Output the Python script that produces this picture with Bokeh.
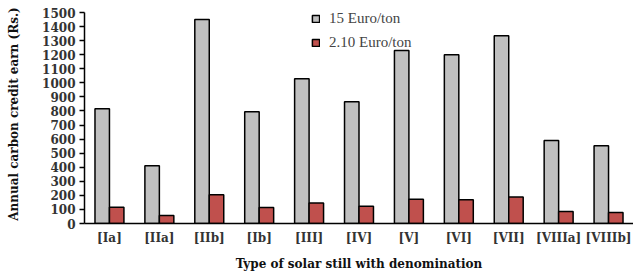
from bokeh.plotting import figure
from bokeh.models import ColumnDataSource, FactorRange, Legend, LegendItem, SingleIntervalTicker
from bokeh.transform import dodge
from bokeh.embed import file_html
from bokeh.resources import INLINE

categories = ["[Ia]", "[IIa]", "[IIb]", "[Ib]", "[III]", "[IV]", "[V]", "[VI]", "[VII]", "[VIIIa]", "[VIIIb]"]
euro15 = [815, 410, 1450, 795, 1030, 865, 1230, 1200, 1335, 590, 552]
euro210 = [115, 57, 204, 113, 146, 123, 173, 168, 188, 85, 78]

src = ColumnDataSource(dict(cat=categories, a=euro15, b=euro210))

# 1500 sits 8px below the frame top so that the legend is not clipped
p = figure(frame_width=549, frame_height=219, x_range=FactorRange(*categories), y_range=(0, 1557),
           output_backend="svg", toolbar_location=None,
           min_border_left=84, min_border_right=0, min_border_top=4, min_border_bottom=40)

r1 = p.vbar(x=dodge("cat", -0.145, range=p.x_range), top="a", width=0.29, source=src,
            fill_color="#c0c0c0", line_color="black", line_width=1.5)
r2 = p.vbar(x=dodge("cat", 0.145, range=p.x_range), top="b", width=0.29, source=src,
            fill_color="#c0504d", line_color="black", line_width=1.5)

p.xgrid.visible = False
p.ygrid.visible = False
p.outline_line_color = None
p.x_range.range_padding = 0

font = "DejaVu Serif"
p.yaxis.ticker = SingleIntervalTicker(interval=100)
p.yaxis.bounds = (0, 1500)
p.yaxis.axis_label = "Annual carbon credit earn (Rs.)"
p.xaxis.axis_label = "Type of solar still with denomination"
for ax in (p.xaxis[0], p.yaxis[0]):
    ax.axis_label_text_font = font
    ax.axis_label_text_font_style = "bold"
    ax.axis_label_text_font_size = "12px"
    ax.major_label_text_font = font
    ax.major_label_text_font_style = "bold"
    ax.major_label_text_font_size = "12px"
    ax.major_label_text_color = "#333333"
    ax.axis_label_text_color = "#111111"
    ax.axis_line_color = "black"
    ax.axis_line_width = 1.5
    ax.minor_tick_line_color = None
p.yaxis.major_tick_out = 5
p.yaxis.major_tick_in = 0
p.yaxis.major_tick_line_width = 1.5
p.yaxis.major_label_standoff = 4
p.yaxis.axis_label_standoff = 18
p.xaxis.major_tick_line_color = None
p.xaxis.major_tick_out = 0
p.xaxis.major_tick_in = 0
p.xaxis.major_label_standoff = 7
p.xaxis.axis_label_standoff = 9

legend = Legend(items=[LegendItem(label="15 Euro/ton", renderers=[r1]),
                       LegendItem(label="2.10 Euro/ton", renderers=[r2])],
                location=(227, 171), orientation="vertical",
                label_text_font="Liberation Serif", label_text_font_size="15px",
                label_height=20, glyph_width=9, glyph_height=9, spacing=4, padding=2,
                label_standoff=9,
                border_line_color=None, background_fill_alpha=0)
p.add_layout(legend)

open("out.html", "w").write(file_html(p, INLINE))
